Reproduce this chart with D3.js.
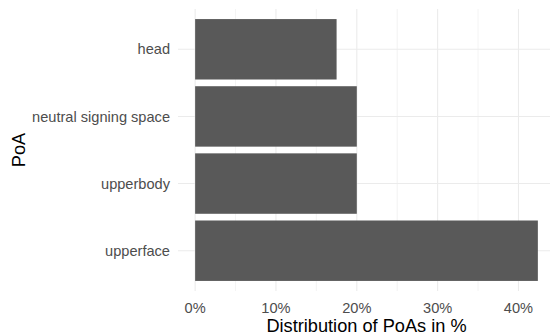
<!DOCTYPE html>
<html><head><meta charset="utf-8">
<script src="https://cdn.jsdelivr.net/npm/d3@7"></script>
<style>body{margin:0;background:#fff}svg{display:block}text{font-family:"Liberation Sans",Arial,Helvetica,sans-serif}</style>
</head><body><svg id="c" width="550" height="336"></svg>
<script>
const categories = ["head", "neutral signing space", "upperbody", "upperface"];
const values = [17.5, 20.0, 20.0, 42.4];
const xTicks = [0, 10, 20, 30, 40];
const xMinor = [5, 15, 25, 35];
const xTitle = "Distribution of PoAs in %";
const yTitle = "PoA";

(function () {
const pL = 178, pR = 555, pT = 9, pB = 291;
const svg = d3.select("#c");
const maxV = d3.max(values);
const pad = maxV * 0.05;
const x = d3.scaleLinear().domain([-pad, maxV + pad]).range([pL, pR]);
const y = d3.scalePoint().domain(categories).range([pT, pB]).padding(0.6);
const step = y.step();
const bh = step * 0.9;

const g = svg.append("g");
g.selectAll(".minor").data(xMinor).join("line")
  .attr("x1", d => x(d)).attr("x2", d => x(d)).attr("y1", pT).attr("y2", pB)
  .attr("stroke", "#EBEBEB").attr("stroke-width", 0.6);
g.selectAll(".majx").data(xTicks).join("line")
  .attr("x1", d => x(d)).attr("x2", d => x(d)).attr("y1", pT).attr("y2", pB)
  .attr("stroke", "#EBEBEB").attr("stroke-width", 1.1);
g.selectAll(".majy").data(categories).join("line")
  .attr("x1", pL).attr("x2", pR).attr("y1", d => y(d)).attr("y2", d => y(d))
  .attr("stroke", "#EBEBEB").attr("stroke-width", 1.1);
g.selectAll(".bar").data(categories).join("rect")
  .attr("x", x(0)).attr("y", d => y(d) - bh / 2)
  .attr("width", (d, i) => x(values[i]) - x(0)).attr("height", bh)
  .attr("fill", "#595959");
g.selectAll(".xl").data(xTicks).join("text")
  .attr("x", d => x(d)).attr("y", 312.5).attr("text-anchor", "middle")
  .attr("font-size", 14.6).attr("fill", "#4D4D4D").text(d => d + "%");
g.selectAll(".yl").data(categories).join("text")
  .attr("x", 170).attr("y", d => y(d)).attr("dy", "0.35em").attr("text-anchor", "end")
  .attr("font-size", 14.6).attr("fill", "#4D4D4D").text(d => d);
svg.append("text").attr("x", (pL + pR) / 2).attr("y", 332).attr("text-anchor", "middle")
  .attr("font-size", 18.2).attr("fill", "#000").text(xTitle);
svg.append("text").attr("transform", `translate(25,${(pT + pB) / 2}) rotate(-90)`)
  .attr("text-anchor", "middle").attr("font-size", 18.2).attr("fill", "#000").text(yTitle);
})();
</script></body></html>
